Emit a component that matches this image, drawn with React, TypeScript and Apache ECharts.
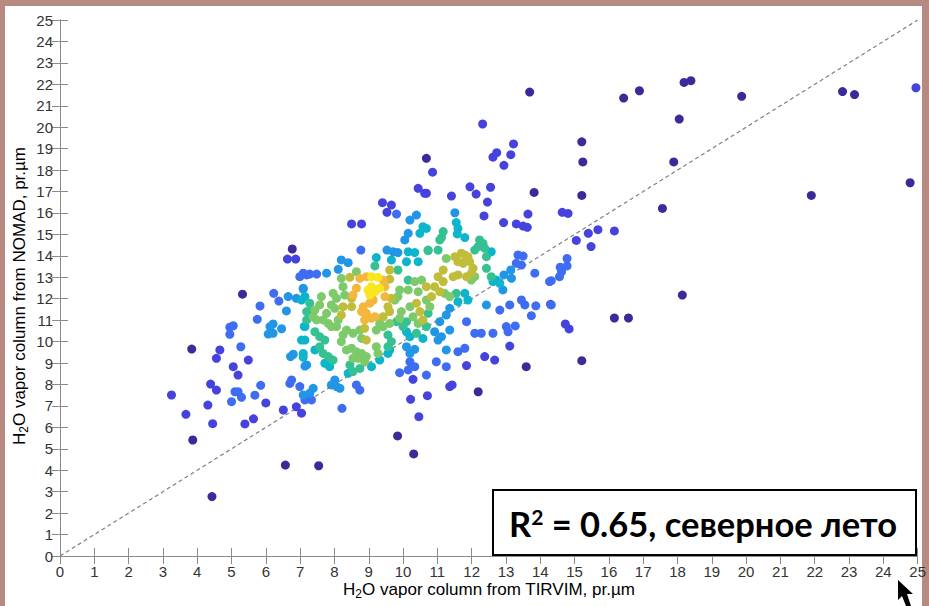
import React, { useEffect, useRef } from "react";
import * as echarts from "echarts";

const xTicks = { min: 0, max: 25, interval: 1 };
const yTicks = { min: 0, max: 25, interval: 1 };
const diagonal = [[0, 0], [25, 25]];

const c0 = [[15.21,9.11],[16.16,11.10],[16.57,11.10],[18.14,12.17],[17.56,16.21],[17.89,18.38],[18.05,20.38],[16.43,21.36],[16.89,21.70],[18.19,22.09],[18.39,22.17],[19.87,21.44],[21.90,16.82],[22.81,21.66],[23.16,21.52],[24.78,17.41],[15.21,19.32],[15.24,18.38],[15.21,16.82],[13.69,21.64],[10.68,18.55],[13.82,16.96],[6.77,14.32],[5.32,12.21],[3.84,9.65],[3.87,5.41],[6.57,4.24],[7.54,4.21],[9.84,5.60],[10.31,4.76],[12.19,7.66],[13.59,8.83],[4.43,2.77]];
const c1 = [[24.95,21.84],[14.64,16.03],[14.81,15.98],[15.05,14.72],[15.40,15.05],[15.68,15.22],[15.48,14.43],[16.16,15.16],[14.73,10.82],[14.84,10.59],[12.32,20.15],[13.22,19.22],[12.73,18.81],[12.62,18.60],[13.14,18.72],[12.94,18.22],[10.86,17.90],[11.95,17.22],[12.13,16.88],[12.55,17.20],[12.46,16.51],[11.41,16.79],[10.68,16.92],[13.64,15.95],[12.36,15.86],[12.93,15.55],[13.30,15.49],[13.50,15.39],[13.62,15.33],[14.30,11.74],[13.11,9.79],[12.38,9.30],[12.67,9.14],[11.85,8.88],[10.44,17.15],[10.63,16.92],[9.40,16.48],[9.66,16.37],[9.53,16.03],[8.50,15.49],[8.79,15.49],[10.29,8.24],[6.63,13.85],[6.87,13.85],[3.25,7.51],[4.31,7.04],[3.67,6.61],[4.45,6.17],[5.39,6.16],[5.64,6.40],[6.51,6.81],[6.89,6.96],[7.04,6.66],[4.66,9.61],[4.56,9.22],[5.49,9.14],[5.05,8.83],[5.19,8.44],[4.39,8.02],[4.56,7.74],[6.00,7.14],[10.46,6.50],[10.22,7.31],[10.71,7.48],[11.36,7.90],[11.43,7.98]];
const c2 = [[14.78,13.88],[14.58,13.47],[14.78,13.53],[14.62,13.26],[14.56,13.03],[14.32,12.84],[14.32,11.71],[13.35,14.04],[13.50,13.99],[13.45,13.57],[13.30,13.65],[13.84,13.19],[14.27,12.80],[12.82,11.47],[13.11,11.71],[13.45,11.94],[13.55,11.71],[13.87,11.67],[11.85,10.93],[12.09,10.39],[12.28,10.39],[12.62,10.39],[13.01,10.70],[13.06,10.46],[13.27,10.73],[13.74,11.21],[11.60,9.53],[11.80,9.69],[10.97,9.06],[11.26,8.83],[10.68,8.44],[9.81,15.95],[8.77,14.27],[7.09,13.19],[7.28,13.15],[7.48,13.15],[10.20,9.06],[10.34,8.83],[9.90,8.55],[10.15,8.68],[8.64,7.98],[8.74,7.74],[6.99,13.03],[7.19,13.11],[6.23,12.25],[6.38,11.89],[5.83,11.66],[5.75,11.04],[4.95,10.67],[5.05,10.74],[4.95,10.34],[5.27,9.76],[6.70,8.05],[6.75,8.21],[6.99,7.90],[5.10,7.66],[5.19,7.66],[5.29,7.40],[5.00,7.20],[5.85,7.96],[5.68,7.50],[7.14,7.28],[7.33,7.28],[8.22,6.89]];
const c3 = [[11.51,16.01],[12.94,13.11],[13.16,12.95],[12.91,12.41],[13.14,13.34],[11.26,11.24],[11.36,11.55],[11.07,10.93],[10.92,10.46],[11.02,10.07],[11.12,10.23],[11.36,10.54],[11.26,9.61],[12.43,11.71],[10.39,15.90],[10.20,15.67],[10.15,15.05],[10.05,14.74],[9.53,14.27],[9.71,14.19],[9.85,14.15],[8.20,13.81],[8.40,13.68],[8.11,13.37],[7.77,13.19],[7.09,12.49],[7.19,8.91],[10.10,9.76],[10.20,9.45],[10.34,9.64],[8.01,8.21],[7.91,7.98],[8.06,7.90],[8.16,7.82],[7.38,7.82],[7.28,7.59],[7.09,7.51],[6.65,12.10],[6.89,12.02],[7.09,12.45],[6.60,11.43],[6.12,10.70],[6.21,10.82],[6.07,10.35],[6.21,10.39],[6.46,10.60],[6.80,9.41],[6.72,9.30],[7.14,8.86]];
const c4 = [[11.55,15.55],[11.60,15.28],[11.58,15.02],[11.80,14.85],[10.68,15.28],[12.57,14.19],[11.80,12.25],[11.60,11.86],[11.89,11.94],[12.62,12.80],[12.72,12.87],[12.82,12.72],[10.58,15.36],[10.49,15.05],[10.15,14.19],[10.34,14.15],[9.22,13.92],[9.66,13.81],[10.10,13.73],[10.44,13.73],[7.14,12.10],[7.04,11.94],[7.43,9.61],[7.72,8.99],[7.86,8.83],[7.14,10.70],[7.14,10.07],[7.09,9.45],[9.08,8.83],[8.40,8.52],[9.56,9.45],[9.61,9.61],[9.32,9.14],[10.10,10.46],[10.20,10.23],[10.58,10.15],[7.12,10.71],[7.04,10.07],[7.09,9.27]];
const c5 = [[11.17,15.13],[11.12,14.85],[11.07,14.74],[12.23,14.74],[12.33,14.58],[12.19,14.43],[12.38,14.35],[12.09,14.27],[12.43,13.96],[10.73,14.27],[11.02,14.27],[10.73,11.32],[12.43,13.42],[12.57,13.03],[11.55,12.25],[10.73,14.24],[9.18,13.53],[9.85,13.34],[7.28,11.79],[7.28,11.40],[7.19,11.01],[7.43,10.46],[7.57,10.23],[7.72,10.07],[7.57,9.76],[7.67,9.45],[7.82,9.30],[7.96,9.14],[9.81,10.93],[9.56,10.31],[9.66,10.00],[9.56,9.76],[8.45,8.91],[8.74,8.75],[8.54,8.60],[10.15,12.87],[10.68,10.70],[10.10,10.93],[10.00,10.70],[10.39,10.39],[7.19,11.40]];
const c6 = [[11.26,13.88],[11.21,12.25],[11.36,12.10],[10.68,11.94],[10.78,11.63],[12.09,13.03],[11.99,12.87],[8.64,13.26],[8.20,12.95],[9.76,11.94],[8.25,12.56],[8.30,12.17],[7.96,12.25],[8.06,12.02],[7.91,11.71],[8.01,11.55],[8.11,11.01],[7.77,11.32],[7.82,10.85],[7.91,10.70],[7.67,11.01],[7.62,12.10],[7.57,11.71],[7.43,11.47],[7.38,11.16],[7.48,11.01],[8.06,10.70],[8.25,10.31],[8.20,10.00],[8.35,10.54],[8.54,10.39],[8.74,10.54],[8.79,10.15],[9.22,10.54],[9.42,10.70],[9.61,10.85],[9.22,9.76],[9.27,9.45],[8.35,9.61],[8.50,9.69],[8.64,9.53],[8.79,9.45],[8.93,9.30],[8.69,9.22],[8.54,9.22],[8.88,9.06],[10.44,12.33],[10.54,12.87],[10.34,12.80],[10.20,11.63],[10.29,11.16],[10.44,10.85],[9.95,11.40],[9.90,11.09],[9.85,12.10],[9.90,12.41],[10.15,12.41],[9.32,10.85]];
const c7 = [[11.51,13.96],[11.70,14.12],[11.80,14.04],[11.89,13.96],[11.60,13.73],[11.75,13.65],[11.94,13.73],[12.04,13.42],[11.99,13.19],[11.85,13.03],[11.60,13.11],[11.46,13.03],[11.17,13.34],[11.02,13.03],[11.17,12.80],[10.92,12.56],[11.07,12.33],[10.83,12.10],[9.61,13.34],[8.45,13.00],[9.61,12.91],[8.50,12.02],[9.66,12.02],[8.50,11.63],[8.25,11.63],[8.20,11.24],[8.88,10.62],[8.93,10.07],[10.68,12.56],[10.39,11.79],[10.49,11.40],[10.58,11.01],[9.56,11.63],[9.61,11.40],[9.42,11.16]];
const c8 = [[8.74,12.95],[8.93,13.03],[9.42,12.87],[9.47,12.56],[8.64,12.49],[8.54,12.17],[9.13,11.94],[9.03,11.79],[9.47,12.10],[8.84,11.63],[8.79,11.40],[8.93,11.32],[9.08,11.09],[9.18,11.16],[8.88,11.01]];
const c9 = [[9.08,13.03],[9.27,13.00],[9.08,12.56],[8.98,12.41],[9.18,12.33],[9.32,12.49],[9.03,12.17]];

const groups = [c0, c1, c2, c3, c4, c5, c6, c7, c8, c9];
const groupColors = ["#3b2b99", "#4642de", "#3e6cf2", "#2196e6", "#0cb4cc", "#35c192", "#7dca6a", "#bfbd3a", "#f4b63c", "#f8e61e"];

const yTitle = "O vapor column from NOMAD, pr.µm";
const xTitle = "O vapor column from TIRVIM, pr.µm";
const noteText = " = 0.65, северное лето";

export default function App() {
  const ref = useRef<HTMLDivElement>(null);
  useEffect(() => {
    document.body.style.margin = "0";
    const chart = echarts.init(ref.current!, null, { renderer: "svg" });
    const axisColor = "#8a8a8a";
    const fam = "Liberation Sans, Arial, sans-serif";
    const labelStyle = { color: "#333", fontSize: 15, fontFamily: fam };
    const rich = {
      a: { fontSize: 17, fontFamily: fam, color: "#333" },
      s: { fontSize: 12, fontFamily: fam, color: "#333", padding: [10, 0, 0, 0] },
    };
    const option: any = {
      animation: false,
      backgroundColor: "#b78a81",
      grid: { left: 60, right: 10, top: 20, bottom: 50, containLabel: false },
      xAxis: [
        {
          type: "value", position: "bottom", ...xTicks,
          axisLine: { show: true, lineStyle: { color: axisColor } },
          axisTick: { show: true, inside: true, length: 8, lineStyle: { color: axisColor } },
          axisLabel: { ...labelStyle, margin: 8 },
          splitLine: { show: false },
        },
        {
          type: "value", position: "top", ...xTicks,
          axisLine: { show: true, lineStyle: { color: axisColor } },
          axisTick: { show: true, inside: true, length: 8, lineStyle: { color: axisColor } },
          axisLabel: { show: false },
          splitLine: { show: false },
        },
      ],
      yAxis: [
        {
          type: "value", position: "left", ...yTicks,
          axisLine: { show: true, lineStyle: { color: axisColor } },
          axisTick: { show: true, inside: true, length: 8, lineStyle: { color: axisColor } },
          axisLabel: { ...labelStyle, margin: 7 },
          splitLine: { show: false },
        },
        {
          type: "value", position: "right", ...yTicks,
          axisLine: { show: true, lineStyle: { color: axisColor } },
          axisTick: { show: true, inside: true, length: 8, lineStyle: { color: axisColor } },
          axisLabel: { show: false },
          splitLine: { show: false },
        },
      ],
      series: [
        {
          type: "line", data: diagonal, symbol: "none", silent: true, z: 1,
          lineStyle: { color: "#808080", width: 1.2, type: [4, 3] },
        },
        ...groups.map((g, i) => ({
          type: "scatter", data: g, symbolSize: 9, silent: true, z: 3 + i,
          itemStyle: { color: groupColors[i], opacity: 1 },
        })),
      ],
      graphic: [
        { type: "rect", z: -100, silent: true, shape: { x: 5, y: 6, width: 917, height: 600 }, style: { fill: "#ffffff" } },
        {
          type: "text", silent: true, x: 19, y: 296, rotation: Math.PI / 2,
          style: { text: "{a|H}{s|2}{a|" + yTitle + "}", rich, align: "center", verticalAlign: "middle" },
        },
        {
          type: "text", silent: true, x: 489, y: 589,
          style: { text: "{a|H}{s|2}{a|" + xTitle + "}", rich, align: "center", verticalAlign: "middle" },
        },
        { type: "rect", z: 50, silent: true, shape: { x: 493, y: 490, width: 423, height: 65 }, style: { fill: "#ffffff", stroke: "#000", lineWidth: 2 } },
        {
          type: "text", z: 51, silent: true, x: 703, y: 523,
          style: {
            text: "{b|R}{p|2}{b|" + noteText + "}", align: "center", verticalAlign: "middle",
            rich: {
              b: { fontSize: 34.5, fontWeight: "bold", fontFamily: "Lato, Open Sans, sans-serif", color: "#000" },
              p: { fontSize: 21, fontWeight: "bold", fontFamily: "Lato, Open Sans, sans-serif", color: "#000", padding: [0, 0, 14, 0] },
            },
          },
        },
        {
          type: "polygon", z: 60, silent: true,
          shape: { points: [[898, 580], [898, 600], [902, 596], [906, 606], [911, 606], [907, 594], [913, 594]] },
          style: { fill: "#000" },
        },
      ],
    };
    chart.setOption(option);
    return () => chart.dispose();
  }, []);
  return <div ref={ref} style={{ width: 929, height: 606 }} />;
}
